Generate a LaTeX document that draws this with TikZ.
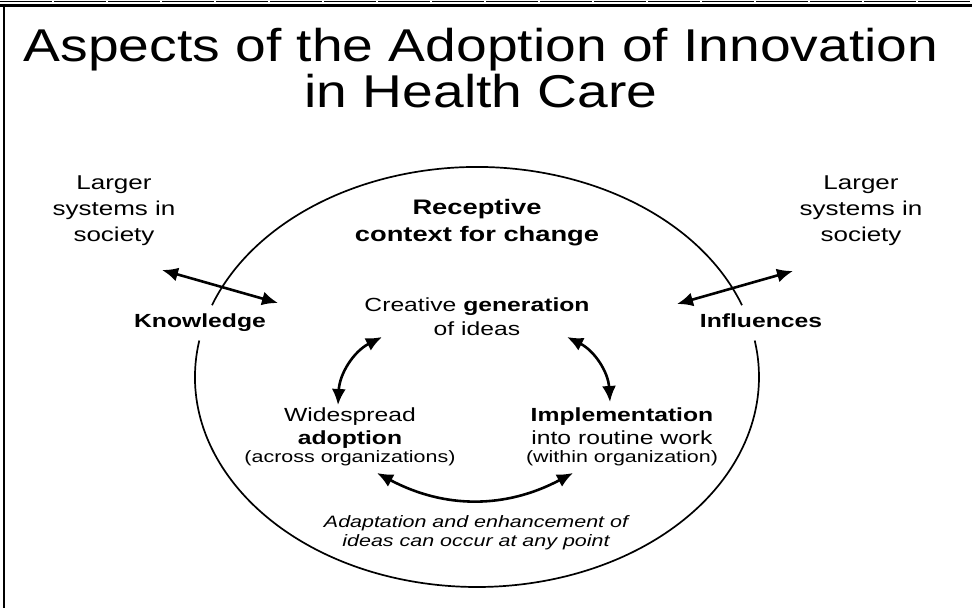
\documentclass[tikz,border=0pt]{standalone}
\usepackage{fontspec}
\setmainfont{Liberation Sans}[FakeStretch=1.3]
\newfontfamily\titlefont{Liberation Sans}[FakeStretch=1.2]
\usetikzlibrary{arrows.meta}
\begin{document}
\begin{tikzpicture}[x=1pt,y=1pt,
  arr/.style={line width=2.6pt, {Latex[length=16pt,width=14pt]}-{Latex[length=16pt,width=14pt]}},
  rim/.style={line width=1.7pt},
  txt/.style={inner sep=0pt, align=center, anchor=base},
]
\useasboundingbox (0,0) rectangle (972,608);
\fill[white] (0,0) rectangle (972,608);
% frame
\draw[line width=3pt] (0,602) -- (972,602);
\draw[line width=0.8pt, dash pattern=on 52pt off 2pt] (0,607) -- (972,607);
\draw[line width=2.5pt] (4,603.5) -- (4,0);

% ellipse with gaps
\coordinate (c) at (477,231);
\draw[rim] ([shift={(20:282 and 210)}]c) arc[start angle=20,end angle=160,x radius=282,y radius=210];
\draw[rim] ([shift={(170:282 and 210)}]c) arc[start angle=170,end angle=370,x radius=282,y radius=210];

% title (base anchor = baseline of last line)
\node[txt, font=\titlefont\fontsize{46}{46}\selectfont] (title) at (481,500) {Aspects of the Adoption of Innovation\\in Health Care};

% side texts
\node[txt, font=\fontsize{20}{26}\selectfont] (lsys) at (114,366) {Larger\\systems in\\society};
\node[txt, font=\fontsize{20}{26}\selectfont] (rsys) at (861,366) {Larger\\systems in\\society};

\node[txt, font=\bfseries\fontsize{21}{27}\selectfont] (rec) at (477,366) {Receptive\\context for change};

\node[txt, font=\bfseries\fontsize{19}{23}\selectfont] (know) at (200,280) {Knowledge};
\node[txt, font=\bfseries\fontsize{19}{23}\selectfont] (infl) at (761,280) {Influences};

\node[txt, font=\fontsize{19}{24}\selectfont] (crea) at (477,272) {Creative \textbf{generation}\\of ideas};

\node[txt, font=\fontsize{19}{23}\selectfont] (wide) at (350,145) {Widespread\\\textbf{adoption}\\[-5pt]{\fontsize{16.5}{18}\selectfont (across organizations)}};
\node[txt, font=\fontsize{19}{23}\selectfont] (impl) at (622,145) {\textbf{Implementation}\\into routine work\\[-5pt]{\fontsize{16.5}{18}\selectfont (within organization)}};

\node[txt, font=\itshape\fontsize{16.5}{19}\selectfont] (adap) at (476,61) {Adaptation and enhancement of\\ideas can occur at any point};

% arrow end points
\coordinate (kA) at (162,338);
\coordinate (kB) at (278,305);
\coordinate (iA) at (677,304);
\coordinate (iB) at (793,337);
\coordinate (lA) at (382,271);
\coordinate (lB) at (338,203);
\coordinate (rA) at (567,271);
\coordinate (rB) at (610,206);
\coordinate (bA) at (377,135);
\coordinate (bB) at (573,135);

\draw[arr] (kA) -- (kB);
\draw[arr] (iA) -- (iB);
\draw[arr] (lA) to[bend right=30] (lB);
\draw[arr] (rA) to[bend left=30] (rB);
\draw[arr] (bA) to[bend right=28] (bB);
\end{tikzpicture}
\end{document}
